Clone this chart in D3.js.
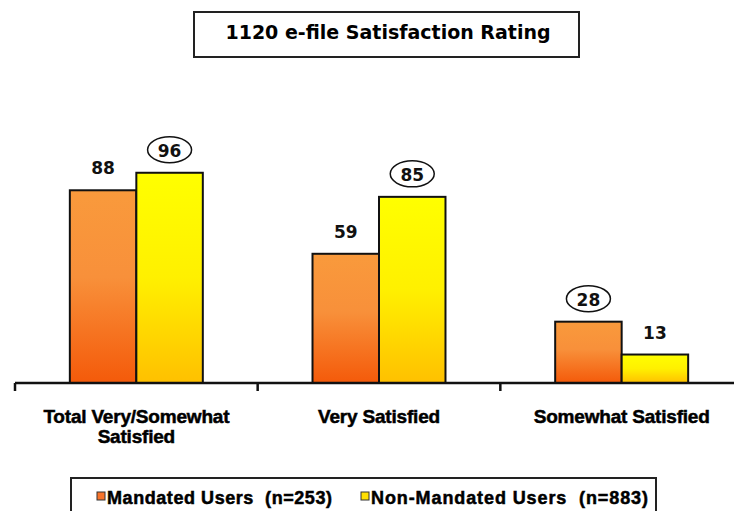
<!DOCTYPE html>
<html>
<head>
<meta charset="utf-8">
<script src="https://cdn.jsdelivr.net/npm/d3@7"></script>
<style>
  body { margin: 0; background: #fff; }
  svg { display: block; }
</style>
</head>
<body>
<svg id="chart" width="734" height="511"></svg>
<script>
// chart data
const categories = ["Total Very/Somewhat Satisfied", "Very Satisfied", "Somewhat Satisfied"];
const categoryLines = [["Total Very/Somewhat", "Satisfied"], ["Very Satisfied"], ["Somewhat Satisfied"]];
const seriesNames = ["Mandated Users (n=253)", "Non-Mandated Users (n=883)"];
const mandated = [88, 59, 28];
const nonMandated = [96, 85, 13];
// which labels are circled in the original
const circled = [[false, true], [false, true], [true, false]];

const title = "1120 e-file Satisfaction Rating";

const svg = d3.select("#chart");
const baseY = 383;

const x0 = d3.scaleBand()
  .domain(categories)
  .range([15, 743])
  .paddingInner(0.452)
  .paddingOuter(0.226);

const x1 = d3.scaleBand()
  .domain(seriesNames)
  .range([0, x0.bandwidth()]);

const y = d3.scaleLinear()
  .domain([0, 100])
  .range([baseY, 164]);

// gradients
const defs = svg.append("defs");
const gradOrange = defs.append("linearGradient").attr("id", "gOrange")
  .attr("x1", 0).attr("y1", 0).attr("x2", 0).attr("y2", 1);
gradOrange.append("stop").attr("offset", "0%").attr("stop-color", "#F99A3C");
gradOrange.append("stop").attr("offset", "45%").attr("stop-color", "#F8903A");
gradOrange.append("stop").attr("offset", "100%").attr("stop-color", "#F45A0A");
const gradYellow = defs.append("linearGradient").attr("id", "gYellow")
  .attr("x1", 0).attr("y1", 0).attr("x2", 0).attr("y2", 1);
gradYellow.append("stop").attr("offset", "0%").attr("stop-color", "#FFFF00");
gradYellow.append("stop").attr("offset", "50%").attr("stop-color", "#FFF000");
gradYellow.append("stop").attr("offset", "100%").attr("stop-color", "#FFC000");
const fills = ["url(#gOrange)", "url(#gYellow)"];
const swatch = ["#F8742A", "#FFE000"];

// title box
svg.append("rect")
  .attr("x", 194).attr("y", 12)
  .attr("width", 385).attr("height", 45)
  .attr("fill", "#fff")
  .attr("stroke", "#222").attr("stroke-width", 2);
svg.append("text")
  .attr("x", 388).attr("y", 39)
  .attr("text-anchor", "middle")
  .style("font-family", "'DejaVu Sans', Verdana, sans-serif")
  .style("font-weight", "bold")
  .style("font-size", "19px")
  .text(title);

// bars
const rows = categories.map((c, i) => ({
  cat: c,
  values: [
    { s: seriesNames[0], v: mandated[i], k: 0, ring: circled[i][0] },
    { s: seriesNames[1], v: nonMandated[i], k: 1, ring: circled[i][1] }
  ]
}));

const groups = svg.selectAll(".grp")
  .data(rows)
  .enter().append("g")
  .attr("class", "grp")
  .attr("transform", d => `translate(${x0(d.cat)},0)`);

groups.selectAll("rect")
  .data(d => d.values)
  .enter().append("rect")
  .attr("x", d => x1(d.s))
  .attr("y", d => y(d.v))
  .attr("width", x1.bandwidth())
  .attr("height", d => baseY - y(d.v))
  .attr("fill", d => fills[d.k])
  .attr("stroke", "#111")
  .attr("stroke-width", 2);

// value labels
groups.selectAll(".ring")
  .data(d => d.values.filter(v => v.ring))
  .enter().append("ellipse")
  .attr("class", "ring")
  .attr("cx", d => x1(d.s) + x1.bandwidth() / 2)
  .attr("cy", d => y(d.v) - 23)
  .attr("rx", 22)
  .attr("ry", 13)
  .attr("fill", "#fff")
  .attr("stroke", "#111")
  .attr("stroke-width", 1.5);

groups.selectAll(".val")
  .data(d => d.values)
  .enter().append("text")
  .attr("class", "val")
  .attr("x", d => x1(d.s) + x1.bandwidth() / 2)
  .attr("y", d => y(d.v) - 16)
  .attr("text-anchor", "middle")
  .style("font-family", "'DejaVu Sans', Verdana, sans-serif")
  .style("font-weight", "bold")
  .style("font-size", "17px")
  .style("fill", "#111")
  .text(d => d.v);

// axis line and ticks
svg.append("line")
  .attr("x1", 15).attr("x2", 734)
  .attr("y1", baseY).attr("y2", baseY)
  .attr("stroke", "#111").attr("stroke-width", 2.5);

const step = x0.step();
svg.selectAll(".tick")
  .data(categories)
  .enter().append("line")
  .attr("class", "tick")
  .attr("x1", d => x0(d) - step * x0.paddingInner() / 2)
  .attr("x2", d => x0(d) - step * x0.paddingInner() / 2)
  .attr("y1", baseY)
  .attr("y2", baseY + 8)
  .attr("stroke", "#111").attr("stroke-width", 2.5);

// category labels
const catText = svg.selectAll(".cat")
  .data(categories)
  .enter().append("text")
  .attr("class", "cat")
  .attr("x", d => x0(d) + x0.bandwidth() / 2)
  .attr("y", 423)
  .attr("text-anchor", "middle")
  .style("font-family", "'Liberation Sans', Arial, sans-serif")
  .style("font-weight", "bold")
  .style("font-size", "19px")
  .style("letter-spacing", "-0.2px")
  .style("stroke", "#000").style("stroke-width", 0.5)
  .style("fill", "#000");

catText.each(function(d, i) {
  d3.select(this).selectAll("tspan")
    .data(categoryLines[i])
    .enter().append("tspan")
    .attr("x", x0(d) + x0.bandwidth() / 2)
    .attr("dy", (t, j) => j === 0 ? 0 : 20)
    .text(t => t);
});

// legend
svg.append("rect")
  .attr("x", 71).attr("y", 478)
  .attr("width", 585).attr("height", 45)
  .attr("fill", "#fff")
  .attr("stroke", "#222").attr("stroke-width", 2);

const legendX = [97, 361];
const legendW = [225, 277];
const legend = svg.selectAll(".leg")
  .data(seriesNames)
  .enter().append("g")
  .attr("class", "leg")
  .attr("transform", (d, i) => `translate(${legendX[i]},0)`);

legend.append("rect")
  .attr("x", 0).attr("y", 492)
  .attr("width", 8).attr("height", 8)
  .attr("fill", (d, i) => swatch[i])
  .attr("stroke", "#333").attr("stroke-width", 1);

legend.append("text")
  .attr("x", 10).attr("y", 504)
  .attr("textLength", (d, i) => legendW[i])
  .attr("lengthAdjust", "spacing")
  .style("font-family", "'Liberation Sans', Arial, sans-serif")
  .style("font-weight", "bold")
  .style("font-size", "18px")
  .style("stroke", "#000").style("stroke-width", 0.5)
  .style("white-space", "pre")
  .text(d => d.replace(" (", "  ("));
</script>
</body>
</html>
